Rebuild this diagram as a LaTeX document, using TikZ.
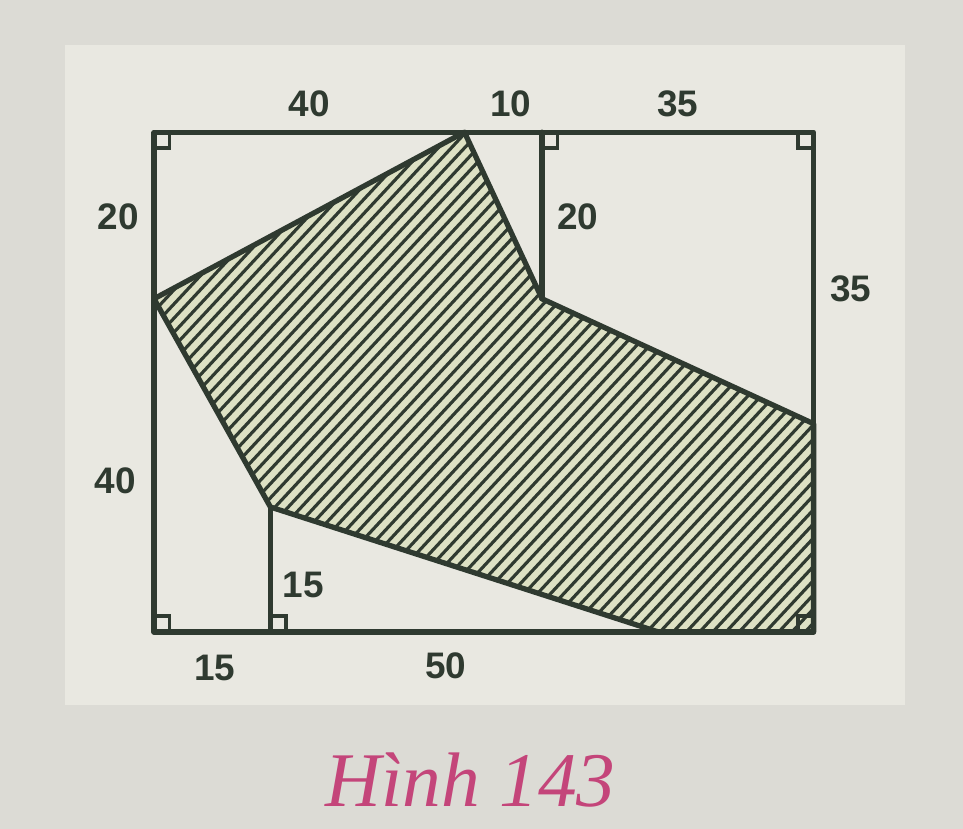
\documentclass[tikz,border=0pt]{standalone}
\usepackage{fontspec}
\usepackage{xcolor}
\usepackage{tikz}
\usetikzlibrary{positioning}

\newfontfamily\labelfont{Liberation Sans}
\newfontfamily\capfont{Liberation Serif}

\definecolor{inkgreen}{HTML}{2F3A30}
\definecolor{paper}{HTML}{E9E8E1}
\definecolor{page}{HTML}{DCDBD5}
\definecolor{hatchbg}{HTML}{DDE1C4}
\definecolor{capink}{HTML}{C4457A}

\begin{document}
\begin{tikzpicture}[
    x=0.1552cm, y=0.1666cm,
    edge/.style={line width=3pt, inkgreen, line join=round, line cap=round},
    hatchline/.style={line width=1.8pt, inkgreen},
    rtangle/.style={line width=2.2pt, inkgreen},
    dimlabel/.style={font=\labelfont\bfseries\fontsize{21}{23}\selectfont, text=inkgreen, inner sep=1pt}
]
% page and paper
\useasboundingbox[fill=page] (-19.85,-23.65) rectangle (104.25,75.87);
\fill[paper] (-11.5,-8.8) rectangle (96.8,70.5);

% corners and points of the figure
\coordinate (A) at (0,60);   % top left
\coordinate (B) at (85,60);  % top right
\coordinate (C) at (85,0);   % bottom right
\coordinate (D) at (0,0);    % bottom left
\coordinate (P) at (0,40);
\coordinate (Q) at (40,60);
\coordinate (R) at (50,40);
\coordinate (S) at (85,25);
\coordinate (T) at (65,0);
\coordinate (U) at (15,15);
\coordinate (M) at (50,60);
\coordinate (N) at (15,0);

% hatched region
\fill[hatchbg] (P) -- (Q) -- (R) -- (S) -- (C) -- (T) -- (U) -- cycle;
\begin{scope}
  \clip (P) -- (Q) -- (R) -- (S) -- (C) -- (T) -- (U) -- cycle;
  \foreach \k in {-64,-62.3,...,90}
    \draw[hatchline] (\k,0) -- ++(64,64);
\end{scope}
\draw[edge] (P) -- (Q) -- (R) -- (S) -- (C) -- (T) -- (U) -- cycle;

% rectangle and inner segments
\draw[edge] (A) -- (B) -- (C) -- (D) -- cycle;
\draw[edge] (M) -- (R);
\draw[edge] (N) -- (U);

% right angle marks
\draw[rtangle] (0,58.1) -| (2,60);
\draw[rtangle] (85,58.1) -| (83,60);
\draw[rtangle] (50,58.1) -| (52,60);
\draw[rtangle] (0,1.9) -| (2,0);
\draw[rtangle] (15,1.9) -| (17,0);
\draw[rtangle] (85,1.9) -| (83,0);

% lengths
\node[dimlabel] (top40) at (20,63.4) {40};
\node[dimlabel] (top10) at (46,63.4) {10};
\node[dimlabel] (top35) at (67.5,63.4) {35};
\node[dimlabel] (left20) at (-4.6,49.8) {20};
\node[dimlabel] (left40) at (-5,18.2) {40};
\node[dimlabel] (mid20) at (54.6,49.8) {20};
\node[dimlabel] (right35) at (89.8,41.2) {35};
\node[dimlabel] (bot15) at (7.8,-4.3) {15};
\node[dimlabel] (bot50) at (37.6,-4) {50};
\node[dimlabel] (mid15) at (19.2,5.6) {15};

% caption
\node[font=\capfont\itshape\fontsize{44}{48}\selectfont, text=capink] (cap) at (40.8,-17.8) {Hình 143};
\end{tikzpicture}
\end{document}
